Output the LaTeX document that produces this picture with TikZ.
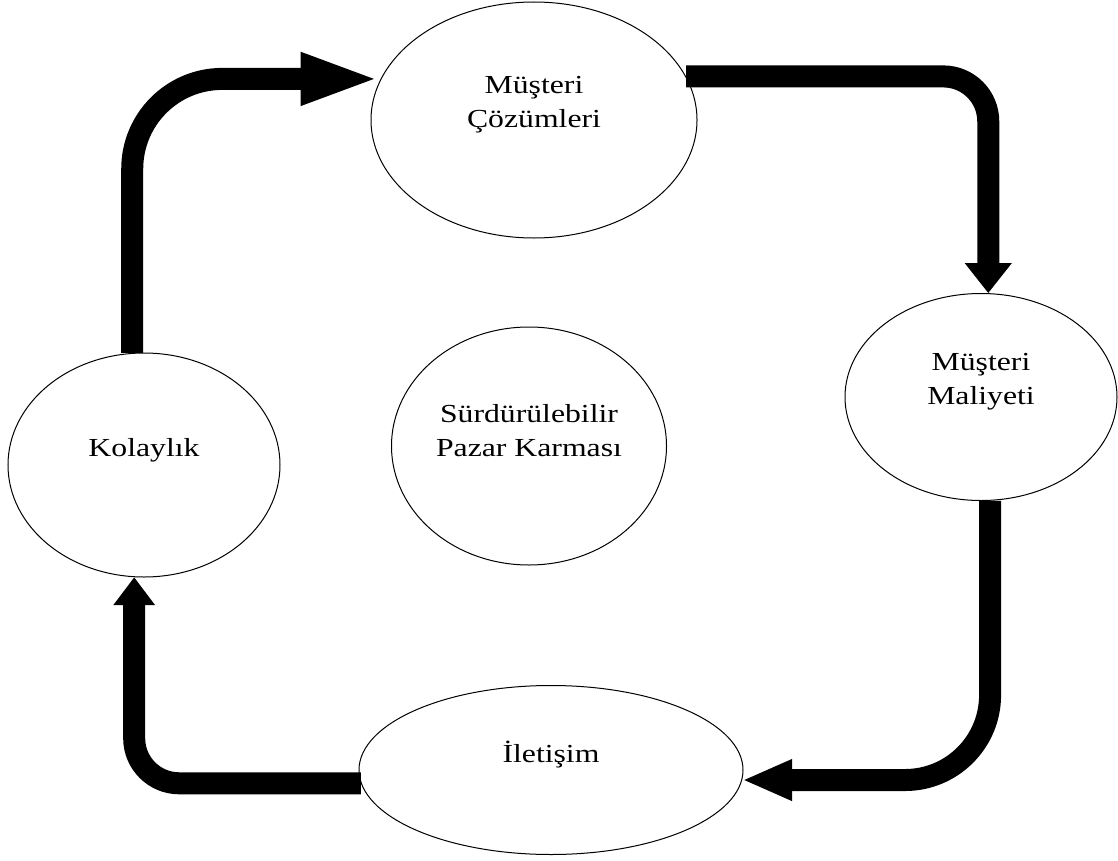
\documentclass[tikz,border=0pt]{standalone}
\usepackage{fontspec}
\setmainfont{Liberation Serif}
\newfontfamily\bubfont{Liberation Serif}[FakeStretch=1.22]
\usetikzlibrary{shapes.geometric,arrows.meta}

\begin{document}
\begin{tikzpicture}[x=1bp,y=-1bp,
    every node/.style={font=\bubfont\fontsize{26bp}{34bp}\selectfont},
    bub/.style={draw,ellipse,line width=1bp,inner sep=0pt},
    txt/.style={align=center,yshift=15bp},
    flow/.style={line width=22bp}]
    \useasboundingbox (0,0) rectangle (1118,861);
    \node[bub,minimum width=326bp,minimum height=236bp,label={[txt]center:Müşteri\\Çözümleri}] (cozum) at (534,120) {};
    \node[bub,minimum width=272bp,minimum height=207bp,label={[txt]center:Müşteri\\Maliyeti}] (maliyet) at (981,397) {};
    \node[bub,minimum width=384bp,minimum height=169bp,label={[txt]center:İletişim}] (iletisim) at (551,770) {};
    \node[bub,minimum width=272bp,minimum height=224bp,label={[txt]center:Kolaylık}] (kolay) at (144,465) {};
    \node[bub,minimum width=275bp,minimum height=238bp,label={[txt]center:Sürdürülebilir\\Pazar Karması}] (karma) at (529,446) {};
    % cycle
    \draw[flow,rounded corners=90bp,-{Triangle[length=80bp,width=47bp]}] (kolay.96) |- (cozum.165);
    \draw[flow,rounded corners=45bp,-{Triangle[length=30bp,width=45bp]}] (cozum.16) -| (maliyet.86);
    \draw[flow,rounded corners=85bp,-{Triangle[length=50bp,width=38bp]}] (maliyet.-85) |- (iletisim.-3);
    \draw[flow,rounded corners=45bp,-{Triangle[length=28bp,width=40bp]}] (iletisim.184) -| (kolay.265);
\end{tikzpicture}
\end{document}
